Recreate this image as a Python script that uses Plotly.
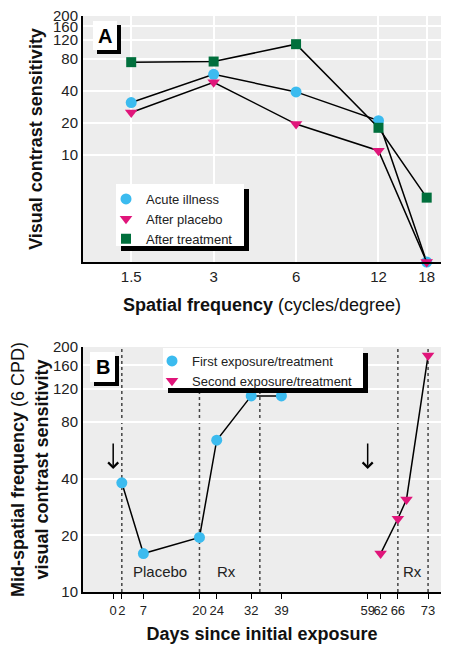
import numpy as np
import plotly.graph_objects as go

# ---------------- Panel A data ----------------
freq = [1.5, 3, 6, 12, 18]
freq_labels = ["1.5", "3", "6", "12", "18"]
acute = [31, 57, 39, 21, 1]
placebo = [25, 48, 19.5, 11, 1]
treatment = [74, 75, 109, 18, 4]
sens_ticks = [10, 20, 40, 80, 120, 160, 200]

# ---------------- Panel B data ----------------
days_first = [2, 7, 20, 24, 32, 39]
sens_first = [38, 16, 19.5, 64, 110, 110]
days_second = [62, 66, 68, 73]
sens_second = [16, 24.5, 31, 180]
day_ticks = [0, 2, 7, 20, 24, 32, 39, 59, 62, 66, 73]
event_days = [2, 20, 34, 66, 73]
exposure_days = [0, 59]
phase_labels = ["Placebo", "Rx", "Rx"]
phase_days = [10.8, 26.3, 69.4]

BLUE = "#3BBBEF"
PINK = "#E0157A"
GREEN = "#006F3C"
BG = "#EDEDED"
FONT = "Liberation Sans, Arial, sans-serif"

# page body has an 8px margin: the figure is drawn 8px in from the top-left corner
OFF = 8
W, H = 450 - OFF, 648 - OFF
ML, MR, MT, MB = 83 - OFF, 9, 16 - OFF, 56
PW, PH = W - ML - MR, H - MT - MB


def px(x):
    return (x - 83) / PW


def py(y):
    return (592 - y) / PH


fig = go.Figure()

line = dict(color="black", width=1.5)


def add_series(x, y, name, symbol, size, color, xa, ya, leg):
    fig.add_trace(go.Scatter(x=x, y=y, mode="lines", line=line, showlegend=False,
                             hoverinfo="skip", xaxis=xa, yaxis=ya))
    fig.add_trace(go.Scatter(x=x, y=y, name=name, mode="markers",
                             marker=dict(symbol=symbol, size=size, color=color),
                             cliponaxis=False, xaxis=xa, yaxis=ya, legend=leg))


add_series(freq, acute, "Acute illness", "circle", 11, BLUE, "x", "y", "legend")
add_series(freq, placebo, "After placebo", "triangle-down", 11, PINK, "x", "y", "legend")
add_series(freq, treatment, "After treatment", "square", 10, GREEN, "x", "y", "legend")
add_series(days_first, sens_first, "First exposure/treatment", "circle", 11, BLUE,
           "x2", "y2", "legend2")
add_series(days_second, sens_second, "Second exposure/treatment", "triangle-down", 11,
           PINK, "x2", "y2", "legend2")

tickfont = dict(family=FONT, size=15, color="#222")
tickfont_b = dict(family=FONT, size=13, color="#222")
titlefont = dict(family=FONT, size=18, color="#111")

A_TOP, A_BOT = 16, 262
B_TOP, B_BOT = 347, 592
YTOP = np.log10(200) + 1e-6

shapes = []
for d in event_days:
    shapes.append(dict(type="line", xref="x2", yref="paper", x0=d, x1=d,
                       y0=py(B_BOT), y1=py(B_TOP),
                       line=dict(color="#444", width=1.5, dash="dot"), layer="below"))


def shadow_box(x0, y0, x1, y1, off=5):
    shapes.append(dict(type="rect", xref="paper", yref="paper",
                       x0=px(x0 + off), x1=px(x1 + off), y0=py(y1 + off), y1=py(y0 + off),
                       fillcolor="black", line=dict(width=0), layer="above"))
    shapes.append(dict(type="rect", xref="paper", yref="paper",
                       x0=px(x0), x1=px(x1), y0=py(y1), y1=py(y0),
                       fillcolor="white", line=dict(width=0), layer="above"))


shadow_box(93, 21, 117, 50, 4)
shadow_box(116, 184, 244, 246, 5)
shadow_box(90, 352, 115, 382, 4)
shadow_box(163, 348, 363, 388, 5)

annotations = [
    dict(text="<b>A</b>", x=px(105), y=py(36), xref="paper", yref="paper", showarrow=False,
         xanchor="center", yanchor="middle", font=dict(family=FONT, size=20, color="black")),
    dict(text="<b>B</b>", x=px(102.5), y=py(367), xref="paper", yref="paper", showarrow=False,
         xanchor="center", yanchor="middle", font=dict(family=FONT, size=20, color="black")),
]
for d in exposure_days:
    annotations.append(dict(text="", x=d, y=np.log10(45), xref="x2", yref="y2",
                            showarrow=True, ax=0, ay=-27, arrowhead=4, arrowsize=1.3,
                            arrowwidth=1.5, arrowcolor="black"))
for t, d in zip(phase_labels, phase_days):
    annotations.append(dict(text=t, x=d, y=np.log10(12.9), xref="x2", yref="y2",
                            showarrow=False, xanchor="center", yanchor="middle",
                            font=dict(family=FONT, size=15, color="#222")))

fig.update_layout(
    width=W, height=H,
    margin=dict(l=ML, r=MR, t=MT, b=MB, autoexpand=False),
    paper_bgcolor="white", plot_bgcolor=BG,
    showlegend=True,
    xaxis=dict(domain=[0, 1], anchor="y", type="log", range=[0, np.log10(20.3)],
               tickvals=freq, ticktext=freq_labels, showgrid=True, gridcolor="white",
               gridwidth=1.5, showline=True, linecolor="black", linewidth=2, ticks="",
               zeroline=False, tickfont=tickfont, automargin=False, tickangle=0,
               title=dict(text="<b>Spatial frequency</b> (cycles/degree)", font=titlefont,
                          standoff=14)),
    yaxis=dict(domain=[py(A_BOT), py(A_TOP)], anchor="x", type="log",
               range=[0, YTOP], tickvals=sens_ticks,
               ticktext=[str(v) for v in sens_ticks], showgrid=True, gridcolor="white",
               gridwidth=1.5, showline=True, linecolor="black", linewidth=2, ticks="",
               zeroline=False, tickfont=tickfont, automargin=False,
               ticklabeloverflow="allow",
               title=dict(text="<b>Visual contrast sensitivity</b>", font=titlefont,
                          standoff=6)),
    xaxis2=dict(domain=[0, 1], anchor="y2", range=[-7, 76], tickvals=day_ticks,
                ticktext=[str(v) for v in day_ticks], showgrid=False, showline=True,
                linecolor="black", linewidth=2, ticks="outside", ticklen=5, tickwidth=1,
                tickcolor="black", zeroline=False, tickfont=tickfont_b, automargin=False,
                tickangle=0,
                title=dict(text="<b>Days since initial exposure</b>", font=titlefont,
                           standoff=11)),
    yaxis2=dict(domain=[py(B_BOT), py(B_TOP)], anchor="x2", type="log",
                range=[1, YTOP], tickvals=sens_ticks,
                ticktext=[str(v) for v in sens_ticks], showgrid=True, gridcolor="white",
                gridwidth=1.5, showline=True, linecolor="black", linewidth=2, ticks="",
                zeroline=False, tickfont=tickfont, automargin=False,
                ticklabeloverflow="allow",
                title=dict(text="<b>Mid-spatial frequency</b> (6 CPD)<br>"
                                "<b>visual contrast sensitivity</b>",
                           font=titlefont, standoff=0)),
    legend=dict(x=px(106), y=py(184), xanchor="left", yanchor="top",
                bgcolor="rgba(0,0,0,0)", borderwidth=0, tracegroupgap=0,
                font=dict(family=FONT, size=13, color="#222")),
    legend2=dict(x=px(152), y=py(346), xanchor="left", yanchor="top",
                 bgcolor="rgba(0,0,0,0)", borderwidth=0, tracegroupgap=0,
                 font=dict(family=FONT, size=13, color="#222")),
    shapes=shapes,
    annotations=annotations,
)

fig.write_html("out.html")
